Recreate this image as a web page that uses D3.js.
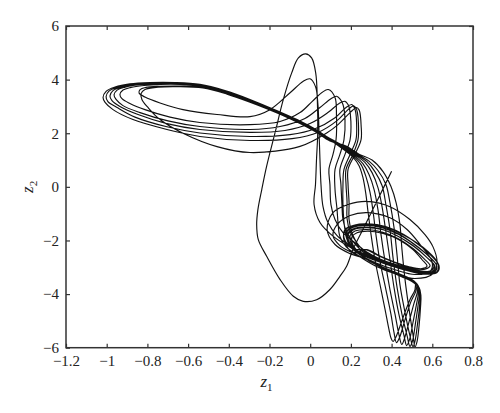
<!DOCTYPE html>
<html>
<head>
<meta charset="utf-8">
<script src="https://cdn.jsdelivr.net/npm/d3@7"></script>
<style>
  body { margin: 0; background: #fff; }
  svg text { font-family: "Liberation Serif", "DejaVu Serif", serif; fill: #222; }
</style>
</head>
<body>
<div id="chart"></div>
<script>
// axis ticks
const z1Ticks = [-1.2, -1, -0.8, -0.6, -0.4, -0.2, 0, 0.2, 0.4, 0.6, 0.8];
const z2Ticks = [-6, -4, -2, 0, 2, 4, 6];

// trajectory, in travel order [z1, z2]
// lobe* = turns around the right-hand scroll, swing* = climb to a peak, a turn
// round the left scroll, then the drop to the bottom and back into the right scroll
const lobe0 = [[0.579,-3.24],[0.466,-3.05],[0.353,-2.79],[0.255,-2.49],[0.196,-2.23],[0.166,-1.89],[0.171,-1.59],[0.215,-1.43],[0.294,-1.39],[0.392,-1.56],[0.490,-1.93],[0.574,-2.38],[0.628,-2.86],[0.623,-3.16],[0.559,-3.24],[0.451,-3.05],[0.343,-2.79],[0.255,-2.49]];

const swing2 = [[0.191,-2.19],[0.132,-1.82],[0.087,-1.33],[0.063,-0.74],[0.053,0.09],[0.048,1.02],[0.043,2.14],[0.038,3.07],[0.026,3.74],[-0.001,4.03],
  [-0.034,3.94],[-0.099,3.51],[-0.198,2.88],[-0.296,2.62],
  [-0.458,2.70],[-0.625,2.88],[-0.738,3.13],[-0.812,3.35],[-0.841,3.50],[-0.836,3.63],[-0.807,3.71],[-0.738,3.75],[-0.640,3.76],[-0.517,3.71],[-0.404,3.48],[-0.296,3.18],
  [-0.148,2.75],[-0.050,2.42],[0.024,2.12],[0.097,1.76],
  [0.161,1.41],[0.210,1.11],[0.240,0.79],[0.259,0.35],[0.274,-0.29],[0.284,-0.92],[0.299,-1.78],[0.318,-2.71],[0.343,-3.65],[0.368,-4.58],[0.387,-5.32],[0.397,-5.64],[0.407,-5.77],
  [0.422,-5.59],[0.456,-4.88],[0.490,-4.21],[0.515,-3.83],[0.515,-3.57],[0.481,-3.38],[0.422,-3.20],[0.343,-2.94],[0.269,-2.64]];

const lobe1 = [[0.215,-2.34],[0.186,-2.04],[0.181,-1.78],[0.210,-1.57],[0.269,-1.50],[0.348,-1.57],[0.427,-1.82],[0.505,-2.19],[0.569,-2.60],[0.608,-2.94],[0.589,-3.14],[0.520,-3.10],[0.431,-2.92],[0.343,-2.69],[0.274,-2.41]];

const swing3 = [[0.220,-2.08],[0.161,-1.71],[0.122,-1.22],[0.102,-0.66],[0.097,0.09],[0.092,0.65],[0.112,1.21],[0.127,1.76],[0.129,2.70],[0.122,3.33],[0.089,3.63],
  [0.058,3.52],[0.009,3.18],[-0.050,2.77],[-0.148,2.44],[-0.296,2.32],
  [-0.542,2.40],[-0.689,2.60],[-0.812,2.88],[-0.886,3.11],[-0.925,3.29],[-0.935,3.44],[-0.920,3.61],[-0.881,3.71],[-0.817,3.78],[-0.738,3.82],[-0.640,3.82],[-0.532,3.74],[-0.414,3.52],[-0.296,3.20],
  [-0.148,2.73],[-0.050,2.40],[0.024,2.10],[0.097,1.75],
  [0.164,1.43],[0.215,1.13],[0.250,0.83],[0.274,0.38],[0.294,-0.21],[0.309,-0.92],[0.323,-1.78],[0.343,-2.79],[0.372,-3.83],[0.397,-4.76],[0.412,-5.44],[0.424,-5.81],
  [0.439,-5.62],[0.466,-4.95],[0.495,-4.28],[0.520,-3.87],[0.522,-3.61],[0.486,-3.40],[0.427,-3.24],[0.348,-2.97],[0.274,-2.68]];

const lobe2 = [[0.196,-2.49],[0.122,-2.15],[0.083,-1.59],[0.112,-0.96],[0.186,-0.66],[0.279,-0.54],[0.392,-0.74],[0.490,-1.22],[0.564,-1.78],[0.603,-2.23],[0.623,-2.79],[0.603,-3.24],[0.515,-3.42],[0.417,-3.24],[0.318,-2.94],[0.235,-2.56]];

const swing4 = [[0.176,-2.23],[0.146,-1.85],[0.137,-1.37],[0.132,-0.85],[0.122,-0.10],[0.122,0.65],[0.146,1.21],[0.166,1.76],[0.171,2.51],[0.161,3.07],[0.146,3.28],[0.130,3.38],
  [0.102,3.29],[0.048,2.96],[-0.026,2.55],[-0.148,2.25],[-0.296,2.14],
  [-0.542,2.25],[-0.699,2.46],[-0.836,2.77],[-0.920,3.03],[-0.954,3.26],[-0.964,3.43],[-0.949,3.61],[-0.910,3.72],[-0.841,3.81],[-0.753,3.85],[-0.650,3.85],[-0.542,3.78],[-0.419,3.56],[-0.296,3.22],
  [-0.148,2.77],[-0.050,2.44],[0.024,2.14],[0.097,1.78],
  [0.166,1.45],[0.220,1.15],[0.259,0.87],[0.289,0.46],[0.314,-0.10],[0.333,-0.85],[0.348,-1.78],[0.368,-2.79],[0.392,-3.83],[0.417,-4.76],[0.436,-5.51],[0.450,-5.88],
  [0.463,-5.66],[0.486,-5.03],[0.510,-4.35],[0.527,-3.91],[0.525,-3.65],[0.490,-3.42],[0.431,-3.25],[0.353,-3.01],[0.279,-2.71]];

const lobe3 = [[0.230,-2.38],[0.200,-2.08],[0.196,-1.82],[0.220,-1.65],[0.279,-1.59],[0.353,-1.69],[0.431,-1.93],[0.505,-2.30],[0.559,-2.68],[0.589,-2.94],[0.564,-3.07],[0.500,-3.03],[0.422,-2.84],[0.343,-2.60],[0.274,-2.34],
  [0.215,-2.32],[0.183,-2.00],[0.176,-1.71],[0.205,-1.50],[0.269,-1.43],[0.348,-1.50],[0.431,-1.74],[0.510,-2.13],[0.579,-2.56],[0.621,-2.94],[0.603,-3.18],[0.535,-3.18],[0.441,-2.99],[0.348,-2.75],[0.264,-2.45]];

const swing5 = [[0.215,-2.08],[0.181,-1.71],[0.161,-1.22],[0.156,-0.66],[0.151,0.09],[0.146,0.65],[0.171,1.21],[0.196,1.76],[0.200,2.44],[0.193,2.92],[0.186,3.07],[0.171,3.19],
  [0.142,3.11],[0.087,2.77],[-0.001,2.36],[-0.124,2.10],[-0.296,2.03],
  [-0.542,2.14],[-0.704,2.36],[-0.846,2.70],[-0.935,3.00],[-0.974,3.22],[-0.984,3.39],[-0.969,3.59],[-0.925,3.72],[-0.856,3.82],[-0.763,3.87],[-0.655,3.87],[-0.542,3.79],[-0.419,3.57],[-0.296,3.24],
  [-0.148,2.72],[-0.050,2.38],[0.024,2.08],[0.097,1.73],
  [0.169,1.47],[0.225,1.17],[0.269,0.91],[0.304,0.53],[0.333,-0.03],[0.353,-0.74],[0.372,-1.67],[0.392,-2.71],[0.412,-3.76],[0.436,-4.76],[0.461,-5.55],[0.474,-5.92],
  [0.488,-5.70],[0.505,-5.06],[0.522,-4.39],[0.532,-3.94],[0.528,-3.66],[0.493,-3.44],[0.436,-3.27],[0.358,-3.03],[0.284,-2.73]];

const lobe4 = [[0.205,-2.45],[0.146,-2.19],[0.112,-1.82],[0.132,-1.41],[0.196,-1.07],[0.279,-0.96],[0.392,-1.15],[0.476,-1.59],[0.540,-2.15],[0.599,-2.79],[0.589,-3.16],[0.515,-3.27],[0.417,-3.09],[0.318,-2.82],[0.245,-2.53]];

const swing6 = [[0.196,-2.23],[0.176,-1.82],[0.166,-1.30],[0.161,-0.66],[0.161,0.09],[0.166,0.65],[0.196,1.21],[0.225,1.76],[0.228,2.36],[0.223,2.81],[0.215,2.98],[0.204,3.07],
  [0.176,2.96],[0.122,2.58],[0.024,2.17],[-0.099,1.95],[-0.296,1.88],
  [-0.542,2.01],[-0.704,2.24],[-0.861,2.60],[-0.949,2.96],[-0.994,3.18],[-1.003,3.37],[-0.989,3.57],[-0.944,3.72],[-0.871,3.84],[-0.777,3.88],[-0.664,3.88],[-0.542,3.81],[-0.419,3.58],[-0.296,3.25],
  [-0.148,2.75],[-0.050,2.42],[0.024,2.12],[0.097,1.76],
  [0.171,1.49],[0.230,1.19],[0.279,0.94],[0.318,0.57],[0.353,0.05],[0.372,-0.66],[0.392,-1.59],[0.407,-2.64],[0.427,-3.76],[0.451,-4.76],[0.476,-5.55],[0.490,-5.95],
  [0.503,-5.74],[0.517,-5.10],[0.530,-4.43],[0.537,-3.98],[0.530,-3.68],[0.495,-3.46],[0.441,-3.29],[0.363,-3.05],[0.289,-2.75]];

const lobe5 = [[0.225,-2.38],[0.193,-2.08],[0.186,-1.80],[0.215,-1.59],[0.274,-1.52],[0.353,-1.59],[0.431,-1.84],[0.510,-2.23],[0.574,-2.64],[0.613,-2.97],[0.594,-3.18],[0.525,-3.14],[0.431,-2.94],[0.343,-2.71],[0.269,-2.43]];

const swing6b = [[0.225,-2.04],[0.196,-1.67],[0.181,-1.18],[0.181,-0.55],[0.176,0.09],[0.176,0.65],[0.210,1.21],[0.235,1.76],[0.237,2.36],[0.232,2.77],[0.225,2.94],[0.213,3.02],
  [0.186,2.88],[0.132,2.47],[0.038,2.03],[-0.089,1.80],[-0.296,1.73],
  [-0.542,1.88],[-0.704,2.14],[-0.871,2.51],[-0.969,2.88],[-1.008,3.15],[-1.018,3.33],[-1.003,3.56],[-0.959,3.72],[-0.886,3.84],[-0.787,3.89],[-0.664,3.89],[-0.542,3.82],[-0.419,3.59],[-0.296,3.26],
  [-0.148,2.79],[-0.050,2.46],[0.024,2.16],[0.097,1.80],
  [0.173,1.50],[0.235,1.21],[0.289,0.96],[0.333,0.61],[0.372,0.09],[0.392,-0.59],[0.412,-1.52],[0.427,-2.56],[0.441,-3.65],[0.466,-4.69],[0.490,-5.55],[0.505,-5.96],
  [0.515,-5.75],[0.527,-5.14],[0.537,-4.47],[0.540,-4.02],[0.532,-3.72],[0.498,-3.50],[0.446,-3.31],[0.368,-3.07],[0.294,-2.77]];

const lobe6 = [[0.235,-2.41],[0.208,-2.13],[0.205,-1.87],[0.230,-1.71],[0.284,-1.65],[0.358,-1.74],[0.436,-1.97],[0.505,-2.34],[0.549,-2.71],[0.574,-2.96],[0.549,-3.05],[0.490,-2.99],[0.417,-2.81],[0.343,-2.58],[0.279,-2.34],
  [0.210,-2.45],[0.173,-2.12],[0.164,-1.78],[0.183,-1.54],[0.245,-1.39],[0.328,-1.41],[0.417,-1.61],[0.505,-2.00],[0.584,-2.49],[0.633,-2.94],[0.623,-3.20],[0.554,-3.25],[0.451,-3.07],[0.348,-2.82],[0.259,-2.53]];

const swing7 = [[0.230,-2.12],[0.205,-1.71],[0.191,-1.22],[0.191,-0.59],[0.186,0.09],[0.186,0.65],[0.220,1.21],[0.250,1.76],[0.250,2.32],[0.245,2.74],[0.240,2.87],[0.228,2.96],
  [0.196,2.77],[0.137,2.32],[0.081,2.01],[-0.050,1.51],[-0.296,1.28],
  [-0.458,1.50],[-0.625,2.00],[-0.738,2.51],[-0.797,2.96],[-0.827,3.26],[-0.831,3.48],[-0.812,3.63],[-0.748,3.72],[-0.650,3.74],[-0.527,3.69],[-0.409,3.46],[-0.296,3.16],
  [-0.148,2.71],[-0.050,2.36],[0.024,2.06],[0.097,1.71],
  [0.176,1.52],[0.240,1.22],[0.304,1.00],[0.358,0.57],[0.397,0.01],[0.422,-0.59],[0.441,-1.41],[0.451,-2.34],[0.466,-3.46],[0.486,-4.58],[0.505,-5.51],[0.515,-5.97],
  [0.525,-5.77],[0.535,-5.18],[0.542,-4.50],[0.544,-4.06],[0.535,-3.76],[0.500,-3.53],[0.449,-3.35],[0.373,-3.09],[0.299,-2.79]];

const lobe7 = [[0.220,-2.34],[0.186,-2.02],[0.178,-1.72],[0.208,-1.52],[0.274,-1.44],[0.353,-1.52],[0.436,-1.78],[0.515,-2.17],[0.584,-2.60],[0.623,-2.97],[0.606,-3.20],[0.530,-3.20],[0.436,-3.01],[0.343,-2.77],[0.255,-2.47]];

// last climb to the highest peak, the big loop, and the loose end at (0.40, 0.58)
const finale = [[0.186,-2.21],[0.112,-1.84],[0.048,-1.33],[0.019,-0.66],[0.026,0.09],[0.031,1.02],[0.037,2.03],[0.035,3.26],[0.027,4.25],[0.007,4.81],[-0.022,4.96],
  [-0.058,4.81],[-0.091,4.25],[-0.132,3.26],[-0.173,2.01],[-0.214,0.77],[-0.238,-0.10],[-0.257,-0.85],[-0.263,-1.41],[-0.255,-1.97],[-0.214,-2.59],[-0.148,-3.46],[-0.083,-4.08],[-0.034,-4.27],[0.032,-4.21],[0.097,-3.83],[0.146,-3.34],[0.179,-2.96],[0.210,-2.34],[0.259,-1.59],[0.332,-0.47],[0.400,0.58]];

const trajectory = [].concat(lobe0, swing2, lobe1, swing3, lobe2, swing4, lobe3, swing5,
  lobe4, swing6, lobe5, swing6b, lobe6, swing7, lobe7, finale);

const width = 500, height = 413;
const plotLeft = 66, plotRight = 473, plotTop = 26, plotBottom = 347.7;

const svg = d3.select("#chart").append("svg")
  .attr("width", width)
  .attr("height", height);

const x = d3.scaleLinear().domain([-1.2, 0.8]).range([plotLeft, plotRight]);
const y = d3.scaleLinear().domain([-6, 6]).range([plotBottom, plotTop]);

const fmt = d3.format("~g");

// trajectory
const line = d3.line()
  .x(d => x(d[0]))
  .y(d => y(d[1]))
  .curve(d3.curveCatmullRom.alpha(0.5));

svg.append("path")
  .datum(trajectory)
  .attr("d", line)
  .attr("fill", "none")
  .attr("stroke", "#111")
  .attr("stroke-width", 1.15)
  .attr("stroke-linejoin", "round");

// axes, ticks pointing inwards on all four sides
function styleAxis(g) {
  g.select(".domain").remove();
  g.selectAll(".tick line").attr("stroke", "#333").attr("stroke-width", 1.2);
  g.selectAll(".tick text").attr("font-size", 15).attr("fill", "#222");
}

svg.append("g")
  .attr("transform", `translate(0,${plotBottom})`)
  .call(d3.axisBottom(x).tickValues(z1Ticks).tickSizeInner(-4).tickSizeOuter(0).tickPadding(8).tickFormat(fmt))
  .call(styleAxis);

svg.append("g")
  .attr("transform", `translate(0,${plotTop})`)
  .call(d3.axisTop(x).tickValues(z1Ticks).tickSizeInner(-4).tickSizeOuter(0).tickFormat(() => ""))
  .call(styleAxis);

svg.append("g")
  .attr("transform", `translate(${plotLeft},0)`)
  .call(d3.axisLeft(y).tickValues(z2Ticks).tickSizeInner(-4).tickSizeOuter(0).tickPadding(7).tickFormat(fmt))
  .call(styleAxis);

svg.append("g")
  .attr("transform", `translate(${plotRight},0)`)
  .call(d3.axisRight(y).tickValues(z2Ticks).tickSizeInner(-4).tickSizeOuter(0).tickFormat(() => ""))
  .call(styleAxis);

// frame
svg.append("rect")
  .attr("x", plotLeft).attr("y", plotTop)
  .attr("width", plotRight - plotLeft).attr("height", plotBottom - plotTop)
  .attr("fill", "none")
  .attr("stroke", "#333")
  .attr("stroke-width", 1.5);

// axis titles
const xt = svg.append("text")
  .attr("x", (plotLeft + plotRight) / 2 - 3)
  .attr("y", 387)
  .attr("text-anchor", "middle")
  .attr("font-size", 17);
xt.append("tspan").attr("font-style", "italic").text("z");
xt.append("tspan").attr("font-size", 11).attr("dy", 4).text("1");

const yt = svg.append("text")
  .attr("transform", `translate(33,${(plotTop + plotBottom) / 2}) rotate(-90)`)
  .attr("text-anchor", "middle")
  .attr("font-size", 17);
yt.append("tspan").attr("font-style", "italic").text("z");
yt.append("tspan").attr("font-size", 11).attr("dy", 4).text("2");
</script>
</body>
</html>
